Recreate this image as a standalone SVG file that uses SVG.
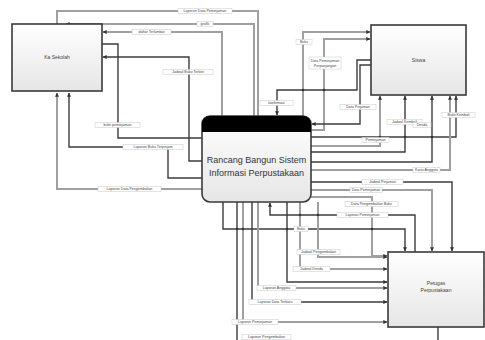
<svg xmlns="http://www.w3.org/2000/svg" width="485" height="340" viewBox="0 0 485 340">
<defs>
<linearGradient id="bg" x1="0" y1="0" x2="0" y2="1"><stop offset="0" stop-color="#ffffff"/><stop offset="1" stop-color="#e6e6e6"/></linearGradient>
<marker id="ar" viewBox="0 0 6 6" refX="5.5" refY="3" markerWidth="4" markerHeight="4" orient="auto" markerUnits="userSpaceOnUse"><path d="M0,0 L6,3 L0,6 Z" fill="#333"/></marker>
<style>
.box{fill:url(#bg);stroke:#3a3a3a;stroke-width:1.6}
.nt{font-family:"Liberation Sans",Arial,sans-serif;font-size:5px;fill:#444;text-anchor:middle}
.ct{font-family:"Liberation Sans",Arial,sans-serif;font-size:9px;fill:#333;text-anchor:middle}
.g{fill:none;stroke:#a0a0a0;stroke-width:2}
.d{fill:none;stroke:#3c3c3c;stroke-width:1.4}
.lb rect{fill:#fff;stroke:#c8c8c8;stroke-width:0.5}
.lb text{font-family:"Liberation Sans",Arial,sans-serif;font-size:3.6px;fill:#444;text-anchor:middle}
.dot{fill:#333}
</style>
</defs>
<rect width="485" height="340" fill="#fff"/>
<g id="connectors">
<path class="g" d="M258,116 V11 H57 V24"/>
<path class="g" d="M254,116 V24 H66" marker-end="url(#ar)"/>
<path class="g" d="M222,116 V32 H103" marker-end="url(#ar)"/>
<path class="d" d="M102,44 H118 V138 H202"/>
<path class="d" d="M202,161 H189 V57 H103" marker-end="url(#ar)"/>
<path class="g" d="M202,189 H57 V93" marker-end="url(#ar)"/>
<path class="d" d="M202,178 H168 V147 H69 V93" marker-end="url(#ar)"/>
<path class="g" d="M303,116 V32 H370" marker-end="url(#ar)"/>
<path class="g" d="M311,130 H324 V39 H370" marker-end="url(#ar)"/>
<path class="d" d="M371,60 H357 V90 H277 V115" marker-end="url(#ar)"/>
<path class="d" d="M371,65 H360 V124 H312" marker-end="url(#ar)"/>
<path class="d" d="M311,137 H456 V96" marker-end="url(#ar)"/>
<path class="g" d="M311,146 H380 V96" marker-end="url(#ar)"/>
<path class="d" d="M311,152 H405 V96" marker-end="url(#ar)"/>
<path class="d" d="M311,162 H432 V96" marker-end="url(#ar)"/>
<path class="g" d="M311,170 H450 V96" marker-end="url(#ar)"/>
<path class="d" d="M311,182 H452 V251" marker-end="url(#ar)"/>
<path class="g" d="M311,190 H432 V251" marker-end="url(#ar)"/>
<path class="g" d="M311,197 H372 V256 H387" marker-end="url(#ar)"/>
<path class="d" d="M415,252 V215 H270 V203" marker-end="url(#ar)"/>
<path class="d" d="M223,202 V229 H405 V251" marker-end="url(#ar)"/>
<path class="g" d="M318,202 V257 H387" marker-end="url(#ar)"/>
<path class="g" d="M300,202 V269 H387" marker-end="url(#ar)"/>
<path class="d" d="M287,202 V282 H387" marker-end="url(#ar)"/>
<path class="g" d="M258,202 V288 H387" marker-end="url(#ar)"/>
<path class="d" d="M252,202 V302 H387" marker-end="url(#ar)"/>
<path class="g" d="M243,202 V322 H387" marker-end="url(#ar)"/>
<path class="d" d="M237,202 V340"/>
<path class="d" d="M438,327 V340"/>
<circle class="dot" cx="303" cy="90" r="1.3"/>
<circle class="dot" cx="324" cy="90" r="1.3"/>
<circle class="dot" cx="380" cy="137" r="1.2"/>
<circle class="dot" cx="405" cy="137" r="1.2"/>
<circle class="dot" cx="432" cy="137" r="1.2"/>
<circle class="dot" cx="300" cy="215" r="1.2"/>
<circle class="dot" cx="318" cy="215" r="1.2"/>
<circle class="dot" cx="237" cy="229" r="1.2"/>
<circle class="dot" cx="243" cy="229" r="1.2"/>
<circle class="dot" cx="287" cy="229" r="1.2"/>
<circle class="dot" cx="300" cy="229" r="1.2"/>
<circle class="dot" cx="372" cy="229" r="1.2"/>
<g class="lb">
<rect x="178" y="8.5" width="54" height="5"/><text x="205" y="12.3">Laporan Data Peminjaman</text>
<rect x="197" y="21.5" width="16" height="5"/><text x="205" y="25.3">grafik</text>
<rect x="132" y="29.5" width="39" height="5"/><text x="151.5" y="33.3">daftar Terlambat</text>
<rect x="163" y="69.5" width="50" height="5"/><text x="188" y="73.3">Jadwal Buku Terkini</text>
<rect x="95" y="122.5" width="45" height="5"/><text x="117.5" y="126.3">bukti peminjaman</text>
<rect x="123" y="144.5" width="60" height="5"/><text x="153" y="148.3">Laporan Buku Terpinjam</text>
<rect x="98" y="186.5" width="63" height="5"/><text x="129.5" y="190.3">Laporan Data Pengembalian</text>
<rect x="296" y="39.5" width="16" height="5"/><text x="304" y="43.3">Buku</text>
<rect x="309" y="57" width="32" height="12"/><text x="325" y="62">Data Peminjaman</text><text x="325" y="67">Perpanjangan</text>
<rect x="260" y="100.5" width="33" height="5"/><text x="276.5" y="104.3">konfirmasi</text>
<rect x="340" y="104.5" width="36" height="5"/><text x="358" y="108.3">Data Pinjaman</text>
<rect x="387" y="119.5" width="35" height="5"/><text x="404.5" y="123.3">Jadwal Kembali</text>
<rect x="413" y="122.5" width="18" height="5"/><text x="422" y="126.3">Denda</text>
<rect x="442" y="112.5" width="33" height="5"/><text x="458.5" y="116.3">Bukti Kembali</text>
<rect x="362" y="137.5" width="27" height="5"/><text x="375.5" y="141.3">Peminjaman</text>
<rect x="413" y="167.5" width="27" height="5"/><text x="426.5" y="171.3">Kartu Anggota</text>
<rect x="362" y="179.5" width="41" height="5"/><text x="382.5" y="183.3">Jadwal Pinjaman</text>
<rect x="350" y="187.5" width="32" height="5"/><text x="366" y="191.3">Data Peminjaman</text>
<rect x="345" y="201.5" width="53" height="5"/><text x="371.5" y="205.3">Data Pengembalian Buku</text>
<rect x="337" y="212.5" width="51" height="5"/><text x="362.5" y="216.3">Laporan Peminjaman</text>
<rect x="294" y="226.5" width="14" height="5"/><text x="301" y="230.3">Buku</text>
<rect x="297" y="249.5" width="43" height="5"/><text x="318.5" y="253.3">Jadwal Pengembalian</text>
<rect x="293" y="266.5" width="37" height="5"/><text x="311.5" y="270.3">Jadwal Denda</text>
<rect x="257" y="285.5" width="39" height="5"/><text x="276.5" y="289.3">Laporan Anggota</text>
<rect x="249" y="299.5" width="52" height="5"/><text x="275" y="303.3">Laporan Data Terbaru</text>
<rect x="232" y="319.5" width="46" height="5"/><text x="255" y="323.3">Laporan Peminjaman</text>
<rect x="242" y="334.5" width="49" height="5"/><text x="266.5" y="338.3">Laporan Pengembalian</text>
</g>
</g>
<g id="kepala-sekolah">
<rect class="box" x="12" y="24" width="90" height="67"/>
<text class="nt" x="57" y="58.5">Ka Sekolah</text>
</g>
<g id="siswa">
<rect class="box" x="371" y="25" width="95" height="70"/>
<text class="nt" x="418.5" y="61.5">Siswa</text>
</g>
<g id="petugas">
<rect class="box" x="388" y="252" width="96" height="75"/>
<text class="nt" x="436" y="285">Petugas</text>
<text class="nt" x="436" y="292">Perpustakaan</text>
</g>
<g id="sistem">
<rect x="202" y="116" width="109" height="86" rx="8" fill="url(#bg)" stroke="#3a3a3a" stroke-width="1.6"/>
<path d="M210,116 H303 A8,8 0 0 1 311,124 V132 H202 V124 A8,8 0 0 1 210,116 Z" fill="#000"/>
<text class="ct" x="256.5" y="163">Rancang Bangun Sistem</text>
<text class="ct" x="256.5" y="176">Informasi Perpustakaan</text>
</g>
</svg>
